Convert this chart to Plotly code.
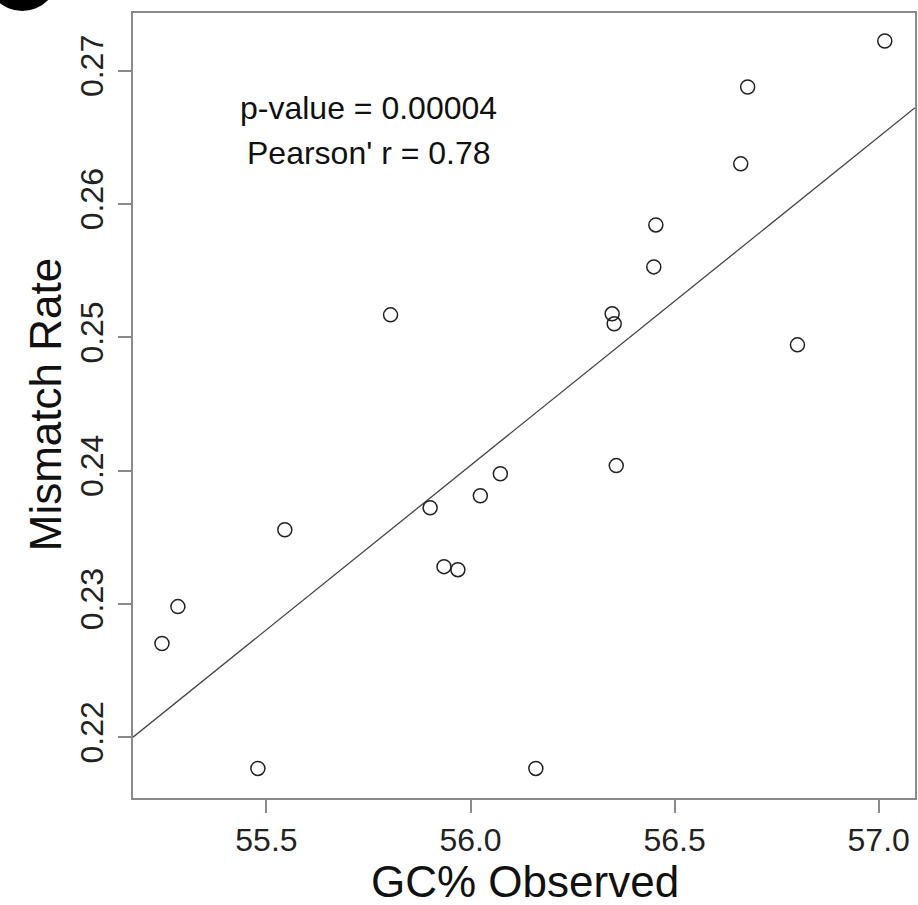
import numpy as np
import plotly.graph_objects as go

gc_observed = [57.015, 56.679, 56.662, 56.454, 56.449, 56.347, 56.352, 56.801, 55.804, 56.357,
               56.073, 56.024, 55.901, 55.935, 55.969, 55.545, 55.283, 55.244, 55.479, 56.160]
mismatch_rate = [0.27223, 0.26878, 0.26301, 0.25843, 0.25528, 0.25176, 0.25101, 0.24943, 0.25168, 0.24037,
                 0.23976, 0.23811, 0.23721, 0.23279, 0.23256, 0.23556, 0.22979, 0.22702, 0.21765, 0.21765]
x_ticks = [55.5, 56.0, 56.5, 57.0]
x_tick_labels = ["55.5", "56.0", "56.5", "57.0"]
y_ticks = [0.22, 0.23, 0.24, 0.25, 0.26, 0.27]
y_tick_labels = ["0.22", "0.23", "0.24", "0.25", "0.26", "0.27"]
stat_lines = ["p-value = 0.00004", "Pearson' r = 0.78"]

x_range = [55.173, 57.089]
y_range = [0.21543, 0.27433]

slope, intercept = np.polyfit(gc_observed, mismatch_rate, 1)
line_x = list(x_range)
line_y = [intercept + slope * v for v in line_x]

FONT = "Liberation Sans, Arial, sans-serif"
fig = go.Figure()
fig.add_trace(go.Scatter(x=line_x, y=line_y, mode="lines",
                         line=dict(color="#444444", width=1.3), hoverinfo="skip"))
fig.add_trace(go.Scatter(x=gc_observed, y=mismatch_rate, mode="markers",
                         marker=dict(symbol="circle-open", size=14, color="#222222",
                                     line=dict(width=1.5, color="#222222"))))

W, H = 918, 905
L, R, T, B = 133, 1, 13, 107
pw, ph = W - L - R, H - T - B

def px_x(p):
    return (p - L) / pw

def px_y(p):
    return (H - B - p) / ph

axis_common = dict(showgrid=False, zeroline=False, showline=True, mirror=True,
                   linecolor="#8a8a8a", linewidth=2, ticks="outside", ticklen=13,
                   tickwidth=1.5, tickcolor="#8a8a8a",
                   tickfont=dict(family=FONT, size=32, color="#222222"))

fig.update_layout(
    width=W, height=H,
    margin=dict(l=L, r=R, t=T, b=B),
    plot_bgcolor="white", paper_bgcolor="white",
    showlegend=False,
    xaxis=dict(range=x_range, tickvals=x_ticks, ticktext=x_tick_labels,
               ticklabelstandoff=0, **axis_common),
    yaxis=dict(range=y_range, tickvals=y_ticks, ticktext=y_tick_labels,
               tickangle=-90, ticklabelstandoff=2, **axis_common),
)

fig.add_annotation(x=px_x(526), y=px_y(881), xref="paper", yref="paper",
                   text="GC% Observed", showarrow=False, xanchor="center", yanchor="middle",
                   font=dict(family=FONT, size=44, color="#111111"))
fig.add_annotation(x=px_x(45), y=px_y(405), xref="paper", yref="paper",
                   text="Mismatch Rate", showarrow=False, textangle=-90,
                   xanchor="center", yanchor="middle",
                   font=dict(family=FONT, size=44, color="#111111"))

stat_y = [0.2672, 0.26383]
for txt, yy in zip(stat_lines, stat_y):
    fig.add_annotation(x=55.75, y=yy, xref="x", yref="y", text=txt, showarrow=False,
                       xanchor="center", yanchor="middle",
                       font=dict(family=FONT, size=32, color="#111111"))

fig.add_shape(type="circle", xref="paper", yref="paper",
              x0=px_x(-14), x1=px_x(58), y0=px_y(11), y1=px_y(-61),
              fillcolor="black", line=dict(color="black", width=0), layer="above")

fig.write_html("out.html", post_script="document.body.style.margin='0';",
               config={"displayModeBar": False})
